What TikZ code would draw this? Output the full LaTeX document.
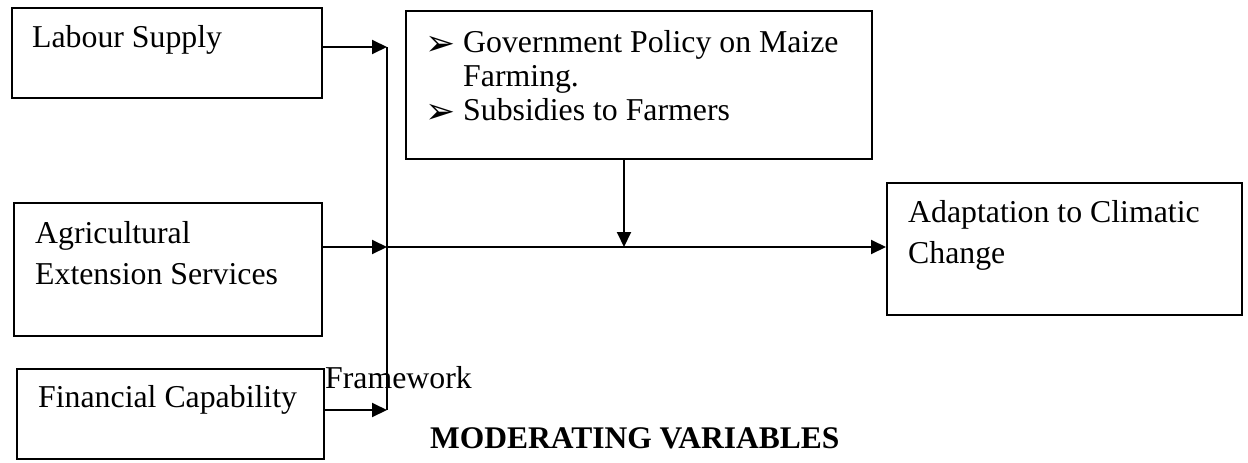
\documentclass[tikz,border=0pt]{standalone}
\usepackage{fontspec}
\setmainfont{Liberation Serif}
\newfontfamily\dejavu{DejaVu Sans}
\usetikzlibrary{arrows.meta}
\begin{document}
\begin{tikzpicture}[x=1pt,y=-1pt,
  box/.style={draw=black,line width=1.6pt,fill=white,inner sep=0pt,anchor=north west},
  txt/.style={anchor=base west,inner sep=0pt,font=\fontsize{31.8}{34}\selectfont},
  bul/.style={anchor=base west,inner sep=0pt,font=\dejavu\fontsize{36}{38}\selectfont},
  conn/.style={line width=2pt},
  arr/.style={line width=2pt,-{Triangle[length=15pt,width=14pt]}}]
\useasboundingbox (0,0) rectangle (1248,463);
% caption text partly hidden behind the Financial box
\node[txt] (cap) at (325,388) {Framework};
\node[txt,font=\bfseries\fontsize{31.5}{34}\selectfont] (mod) at (430,448) {MODERATING VARIABLES};
% boxes
\node[box,minimum width=310pt,minimum height=90pt] (labour) at (11,7) {};
\node[txt] (labourt) at (32,47) {Labour Supply};
\node[box,minimum width=308pt,minimum height=133pt] (agri) at (13,202) {};
\node[txt] (agrit1) at (35,243) {Agricultural};
\node[txt] (agrit2) at (35,284) {Extension Services};
\node[box,minimum width=307pt,minimum height=90pt] (fin) at (16,368) {};
\node[txt] (fint) at (38,407) {Financial Capability};
\node[box,minimum width=466pt,minimum height=148pt] (gov) at (405,10) {};
\node[bul] (b1) at (425,55) {➢};
\node[txt] (govt1) at (463,52) {Government Policy on Maize};
\node[txt] (govt2) at (463,86) {Farming.};
\node[bul] (b2) at (425,123) {➢};
\node[txt] (govt3) at (463,120) {Subsidies to Farmers};
\node[box,minimum width=355pt,minimum height=132pt] (adapt) at (886,182) {};
\node[txt] (adt1) at (908,222) {Adaptation to Climatic};
\node[txt] (adt2) at (908,263) {Change};
% junction coordinates
\coordinate (j1) at (387,47);
\coordinate (j2) at (387,247);
\coordinate (j3) at (387,410);
\coordinate (jm) at (624,247);
% connectors
\draw[conn] (j1) -- (j3);
\draw[arr] (labour.east |- j1) -- (j1);
\draw[arr] (agri.east |- j2) -- (j2);
\draw[arr] (fin.east |- j3) -- (j3);
\draw[arr] (j2) -- (adapt.west |- j2);
\draw[arr] (gov.south -| jm) -- (jm);
\end{tikzpicture}
\end{document}
